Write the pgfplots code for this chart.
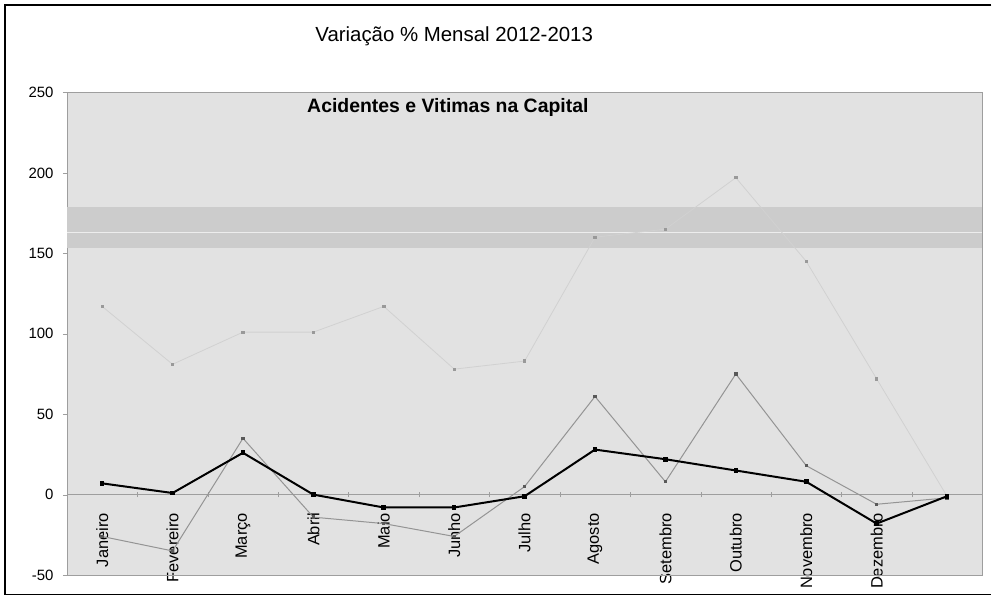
\documentclass[border=0pt]{standalone}
\usepackage{pgfplots}
\pgfplotsset{compat=1.18}
\usepackage{fontspec}
\setmainfont{Liberation Sans}
\definecolor{plotbg}{gray}{0.885}
\definecolor{band}{gray}{0.80}
\definecolor{midline}{gray}{0.58}
\definecolor{faintline}{gray}{0.82}
\definecolor{frameln}{gray}{0.62}

\begin{document}
\begin{tikzpicture}
\begin{axis}[name=ax,
  width=916bp,height=483bp,scale only axis,
  xmin=-0.5,xmax=12.5,ymin=-50,ymax=250,
  axis x line*=middle,axis y line*=left,
  axis line style={frameln},
  axis background/.style={fill=plotbg},
  /pgf/number format/assume math mode=true,
  ytick={-50,0,...,250},
  xtick={0,...,11},
  xticklabels={Janeiro,Fevereiro,Março,Abril,Maio,Junho,Julho,Agosto,Setembro,Outubro,Novembro,Dezembro},
  minor xtick={0.5,1.5,...,11.5},
  major x tick style={draw=none},
  minor x tick style={frameln},
  xtick align=center,ytick align=outside,
  major tick length=4bp,minor tick length=5bp,
  y tick style={frameln},
  yticklabel style={font=\fontsize{15}{18}\selectfont,xshift=-6bp},
  xticklabel style={rotate=90,anchor=east,font=\fontsize{16.5}{19}\selectfont},
  xticklabel shift=13bp,
  clip=false]
% scan band across the plot area
\fill[band] (axis cs:-0.5,153) rectangle (axis cs:12.5,179);
\draw[plotbg!60!white,line width=1bp] (axis cs:-0.5,163) -- (axis cs:12.5,163);
\draw[frameln] (rel axis cs:0,1) -- (rel axis cs:1,1) -- (rel axis cs:1,0) -- (rel axis cs:0,0);
% faint series
\addplot[faintline,line width=0.8bp,mark=square*,mark size=1.2bp,
  mark options={draw=black!40,fill=black!40}]
  coordinates {(0,117) (1,81) (2,101) (3,101) (4,117) (5,78) (6,83)
    (7,160) (8,165) (9,197) (10,145) (11,72) (12,-1)};
% gray series
\addplot[midline,line width=1bp,mark=square*,mark size=1.2bp,
  mark options={draw=black!65,fill=black!65}]
  coordinates {(0,-26) (1,-35) (2,35) (3,-14) (4,-18) (5,-26) (6,5)
    (7,61) (8,8) (9,75) (10,18) (11,-6) (12,-2)};
% black series
\addplot[black,line width=2bp,mark=square*,mark size=1.3bp]
  coordinates {(0,7) (1,1) (2,26) (3,0) (4,-8) (5,-8) (6,-1)
    (7,28) (8,22) (9,15) (10,8) (11,-18) (12,-1)};
\node[font=\fontsize{20.5}{24}\selectfont] at (axis cs:5.0,285) {Variação \% Mensal 2012-2013};
\node[font=\bfseries\fontsize{19.5}{23}\selectfont] at (axis cs:4.91,240.4) {Acidentes e Vitimas na Capital};
\end{axis}
\draw[line width=1.5bp] ([shift={(925bp,570.5bp)}]ax.south west) -- ([shift={(-62bp,570.5bp)}]ax.south west)
  -- ([shift={(-62bp,-19.5bp)}]ax.south west) -- ([shift={(925bp,-19.5bp)}]ax.south west);
\path ([shift={(-67bp,-22.5bp)}]ax.south west) rectangle ([shift={(925bp,575.5bp)}]ax.south west);
\end{tikzpicture}
\end{document}
